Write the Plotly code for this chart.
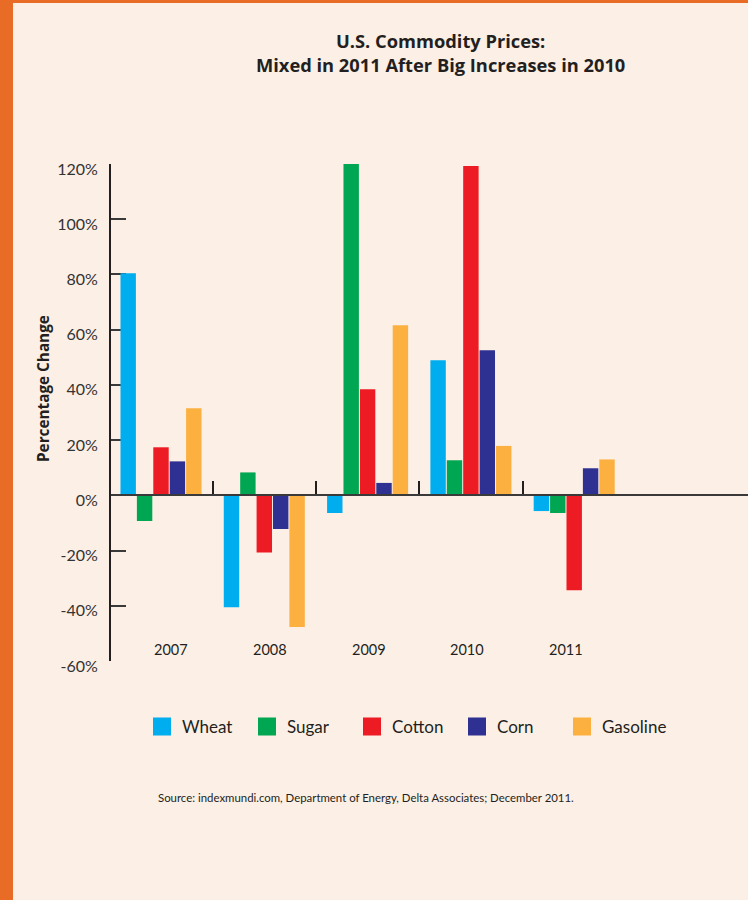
import plotly.graph_objects as go

# ---- data ----
years = ["2007", "2008", "2009", "2010", "2011"]
commodities = ["Wheat", "Sugar", "Cotton", "Corn", "Gasoline"]
wheat = [80.4, -40.5, -6.4, 48.9, -5.7]
sugar = [-9.3, 8.3, 120.3, 12.7, -6.4]
cotton = [17.4, -20.7, 38.4, 119.3, -34.4]
corn = [12.3, -12.2, 4.5, 52.5, 9.8]
gasoline = [31.5, -47.7, 61.6, 17.9, 13.0]
series = [wheat, sugar, cotton, corn, gasoline]
colors = ["#00aeef", "#00a651", "#ed1c24", "#2e3192", "#fbb040"]
y_ticks = [-60, -40, -20, 0, 20, 40, 60, 80, 100, 120]
y_tick_labels = [f"{v}%" for v in y_ticks]
title_lines = ["U.S. Commodity Prices:", "Mixed in 2011 After Big Increases in 2010"]
y_title = "Percentage Change"
source = "Source: indexmundi.com, Department of Energy, Delta Associates; December 2011."

# ---- layout constants ----
W, H = 748, 900
L, R, T, B = 111, 0, 164, 239
BG = "#fcefe6"
ORANGE = "#e86c25"
INK = "#231f20"
FONT = "Lato"
BOLD_FONT = "Open Sans"
pw, ph = W - L - R, H - T - B
xpos = list(range(len(years)))
x_range = [-0.484, -0.484 + pw / 103.3]
y_range = [-60, 120]

fig = go.Figure()
for name, vals, col in zip(commodities, series, colors):
    fig.add_trace(go.Bar(x=xpos, y=vals, name=name, marker=dict(color=col, line=dict(width=0)),
                         showlegend=False))
# legend entries (no data drawn)
for name, col in zip(commodities, colors):
    fig.add_trace(go.Scatter(x=[None], y=[None], name=name, mode="markers", xaxis="x2",
                             marker=dict(symbol="square", size=18, color=col,
                                         line=dict(color=col, width=2))))

def px_x(p):
    return (p - L) / pw

def px_y(p):
    return (H - B - p) / ph

annotations = []
for i, yr in enumerate(years):
    annotations.append(dict(x=xpos[i], y=-56, xref="x", yref="y", text=yr, showarrow=False,
                            xanchor="center", yanchor="middle",
                            xshift=10 - 4.5 * i, font=dict(family=FONT, size=14.5, color=INK)))
annotations.append(dict(x=px_x(441), y=px_y(52.5), xref="paper", yref="paper",
                        text="<b>" + "<br>".join(title_lines) + "</b>",
                        xanchor="center", yanchor="middle", align="center",
                        showarrow=False, font=dict(family=BOLD_FONT, size=18.3, color=INK)))
annotations.append(dict(x=px_x(43), y=px_y(389), xref="paper", yref="paper", text=f"<b>{y_title}</b>",
                        xanchor="center", yanchor="middle",
                        textangle=-90, showarrow=False, font=dict(family=BOLD_FONT, size=15.3, color=INK)))
annotations.append(dict(x=px_x(156), y=px_y(797), xref="paper", yref="paper", text=source,
                        xanchor="left", yanchor="middle",
                        showarrow=False, font=dict(family=FONT, size=11.4, color=INK)))

shapes = [
    dict(type="rect", xref="paper", yref="paper", x0=px_x(0), x1=px_x(13), y0=px_y(H), y1=px_y(0),
         fillcolor=ORANGE, line=dict(width=0), layer="above"),
    dict(type="rect", xref="paper", yref="paper", x0=px_x(0), x1=px_x(W), y0=px_y(3), y1=px_y(0),
         fillcolor=ORANGE, line=dict(width=0), layer="above"),
]

fig.update_layout(
    width=W, height=H,
    margin=dict(l=L, r=R, t=T, b=B, pad=0, autoexpand=False),
    paper_bgcolor=BG, plot_bgcolor=BG,
    barmode="group", bargap=0.206, bargroupgap=0.06,
    xaxis=dict(range=x_range, showgrid=False, zeroline=False, showline=False,
               showticklabels=False, ticks=""),
    xaxis2=dict(range=x_range, overlaying="x", side="top", anchor="free",
                position=(0 - y_range[0]) / (y_range[1] - y_range[0]),
                showgrid=False, zeroline=False, showline=True, linecolor="#3a3a3a", linewidth=2,
                ticks="outside", ticklen=13, tickwidth=1.5, tickcolor=INK,
                tickvals=[0.5, 1.5, 2.5, 3.5], showticklabels=False),
    yaxis=dict(range=y_range, tickvals=y_ticks, ticktext=y_tick_labels, showgrid=False,
               zeroline=False, showline=True, linecolor=INK, linewidth=2, layer="below traces",
               ticks="inside", ticklen=15, tickwidth=2, tickcolor="#3a3a3a",
               ticklabelstandoff=8, ticklabelshift=5,
               tickfont=dict(family=FONT, size=16, color="#333333")),
    legend=dict(orientation="h", x=142 / W, xref="container", xanchor="left",
                y=px_y(727), yanchor="middle", bgcolor="rgba(0,0,0,0)",
                entrywidth=60, entrywidthmode="pixels", itemsizing="trace",
                font=dict(family=FONT, size=17, color=INK)),
    annotations=annotations, shapes=shapes,
)

fig.write_html("out.html")
